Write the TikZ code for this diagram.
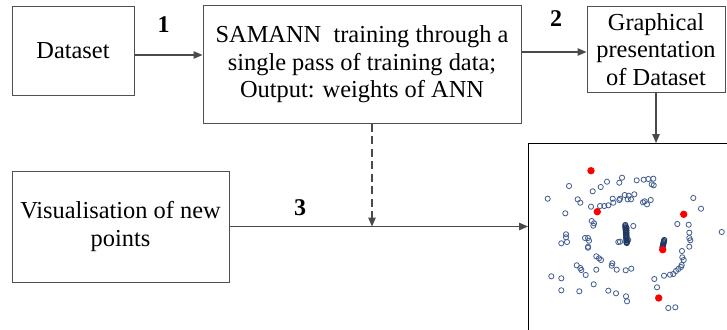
\documentclass[tikz,border=0pt]{standalone}
\usepackage{fontspec}
\setmainfont{Liberation Serif}
\usetikzlibrary{arrows.meta}
\definecolor{boxline}{HTML}{505050}
\definecolor{arrline}{HTML}{4A4A4A}
\definecolor{ptblue}{HTML}{3E5A8C}
\definecolor{navy}{HTML}{1F3864}
\tikzset{
  box/.style={draw=boxline, line width=1pt, rectangle, inner sep=0pt, align=center,
    font=\fontsize{24.4}{27.5}\selectfont},
  arr/.style={draw=arrline, line width=1.2pt, -{Triangle[length=9pt,width=7.5pt]}},
  dasharr/.style={arr, dash pattern=on 8pt off 4.5pt},
  numlbl/.style={font=\fontsize{24}{24}\selectfont\bfseries, inner sep=0pt},
  hpt/.style={draw=ptblue, line width=0.8pt},
  cpt/.style={draw=navy, line width=0.9pt},
  rpt/.style={fill=red, draw=none}
}
\begin{document}
\begin{tikzpicture}[x=1pt,y=-1pt]
\useasboundingbox (0,0) rectangle (727,329);
\clip (0,0) rectangle (727,329);
\fill[white] (0,0) rectangle (727,329);

\node[box, minimum width=122pt, minimum height=88pt] (dataset) at (73,51) {Dataset};
\node[box, minimum width=318pt, minimum height=117pt] (samann) at (362,64.5)
  {SAMANN\ \ training through a\\single pass of training data;\\Output: weights of ANN};
\node[box, minimum width=138pt, minimum height=85pt] (graph) at (656,49.5)
  {Graphical\\presentation\\of Dataset};
\node[box, minimum width=217pt, minimum height=111pt] (vis) at (120.5,226.5)
  {Visualisation of new\\points};
\node[draw=black, line width=1pt, rectangle, inner sep=0pt, minimum width=240pt,
  minimum height=220pt, anchor=north west] (scatter) at (528,143) {};

\node[numlbl] (n1) at (163.5,25) {1};
\node[numlbl] (n2) at (556,18.5) {2};
\node[numlbl] (n3) at (300,207.5) {3};

\coordinate (a1) at ([yshift=-4pt]dataset.east);
\coordinate (a2) at ([yshift=-2.5pt]graph.west);
\draw[arr] (a1) -- (a1 -| samann.west);
\draw[arr] (a2 -| samann.east) -- (a2);
\draw[arr] (graph.south) -- (graph.south |- scatter.north);
\draw[arr] (vis.east) -- (vis.east -| scatter.west);
\coordinate (d1) at ([xshift=10pt]samann.south);
\draw[dasharr] (d1) -- (d1 |- vis.east);

% hollow points
\foreach \x/\y in {
569.0/186.0, 547.7/198.7, 565.3/213.3, 592.7/191.3, 600.7/187.0, 607.0/181.7,
619.3/182.7, 622.0/177.7, 636.7/180.3, 643.7/179.7, 648.3/179.0, 653.3/178.7,
651.7/184.3, 653.7/185.3, 577.7/199.3, 580.3/202.7, 591.0/206.7, 600.0/206.0,
604.3/206.0, 608.3/205.3, 612.7/198.7, 613.3/202.7, 619.3/200.0, 620.0/198.7,
624.7/195.0, 628.7/195.7, 634.3/194.3, 631.0/199.3, 627.7/199.3, 643.0/202.3,
644.7/201.3, 647.0/204.3, 650.7/200.0, 591.7/221.0, 593.3/225.7, 594.0/223.3,
566.0/234.3, 566.0/237.3, 561.3/243.3, 567.0/242.0, 585.0/238.0, 588.0/238.0,
589.0/240.7, 588.0/246.7, 588.0/247.7, 618.3/242.0, 633.3/226.0, 596.3/256.3,
599.0/258.3, 601.0/260.0, 596.3/269.7, 612.3/263.3, 611.7/265.7, 616.7/269.7,
576.7/265.3, 580.3/268.0, 581.3/270.0, 585.7/275.0, 625.7/270.3, 631.3/268.7,
551.3/276.3, 561.3/278.3, 593.7/284.3, 561.3/290.3, 579.3/291.3, 608.3/290.7,
616.0/293.3, 626.0/296.3, 627.0/301.3,
693.3/198.0, 701.0/208.7, 677.3/224.0, 688.7/224.7, 689.3/232.7, 689.3/238.0,
690.3/240.3, 689.3/246.7, 682.0/251.0, 682.3/257.3, 683.7/260.0, 681.7/265.0,
681.0/267.0, 678.3/269.0, 676.0/271.0, 673.3/274.0, 670.0/274.7, 664.0/275.7,
654.3/279.0, 657.0/287.3, 668.3/308.0, 675.3/307.3, 721.7/232.0,
620.0/241.7, 628.3/240.0}
  \draw[hpt] (\x,\y) circle (2.6);

% dense clusters
\foreach \k in {0,...,15}
  \draw[cpt] ({625.3+0.1*\k},{225+1.2*\k}) circle (2.6);
\foreach \k in {0,...,6}
  \draw[cpt] ({626.5},{228+2.4*\k}) circle (2.6);
\foreach \k in {0,...,7}
  \draw[cpt] ({664.2-0.25*\k},{240+1.1*\k}) circle (2.6);

% red points
\foreach \x/\y in {591.0/170.7, 597.3/211.7, 683.7/214.3, 662.7/249.7, 658.7/298.0}
  \fill[rpt] (\x,\y) circle (3.7);
\end{tikzpicture}
\end{document}
